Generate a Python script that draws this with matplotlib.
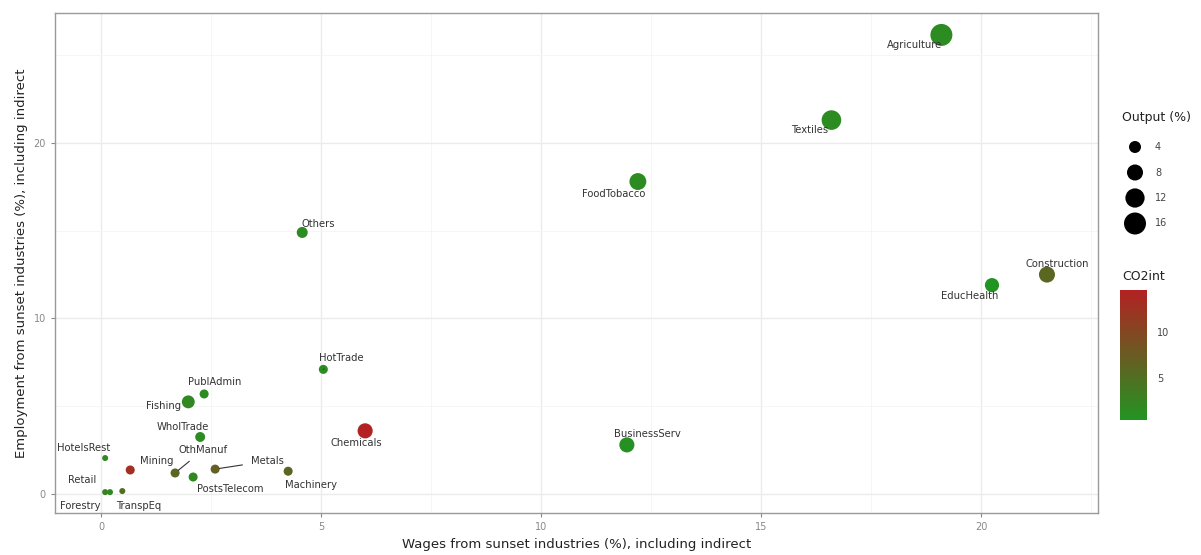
import numpy as np
import matplotlib
matplotlib.use("Agg")
import matplotlib.pyplot as plt
from matplotlib.colors import LinearSegmentedColormap, Normalize

# sector data
sectors = ["Agriculture", "Textiles", "FoodTobacco", "Others", "Construction",
           "EducHealth", "HotTrade", "PublAdmin", "Fishing", "WholTrade",
           "Chemicals", "BusinessServ", "HotelsRest", "Mining", "OthManuf",
           "PostsTelecom", "Metals", "Machinery", "Retail", "Forestry", "TranspEq"]
wages = [19.1, 16.6, 12.2, 4.57, 21.5, 20.25, 5.05, 2.34, 1.98, 2.25,
         6.0, 11.95, 0.09, 0.66, 1.68, 2.09, 2.59, 4.25, 0.09, 0.2, 0.48]
employment = [26.15, 21.3, 17.8, 14.9, 12.5, 11.9, 7.1, 5.7, 5.25, 3.25,
              3.6, 2.8, 2.05, 1.37, 1.2, 0.97, 1.42, 1.3, 0.11, 0.11, 0.17]
output = [16, 12.5, 9, 3.2, 8, 6, 1.8, 1.8, 4.8, 2.4,
          7, 7, 0.2, 1.8, 1.8, 1.8, 1.8, 1.8, 0.2, 0.2, 0.2]
co2int = [1.5, 1.5, 1.5, 1.5, 6.0, 0.5, 1.5, 1.5, 2.0, 1.5,
          14.5, 1.0, 2.0, 13.0, 6.0, 2.0, 7.0, 6.0, 3.0, 2.0, 5.0]

# label offsets in pixels (text centre relative to point), ggrepel-like
label_dx = [-27, -22, -24, 16, 10, -22, 18, 11, -25, -17,
            -9, 21, -22, 27, 28, 37, 52, 23, -23, -30, 16]
label_dy = [-10, -10, -12, 8, 11, -11, 11, 12, -4, 10,
            -12, 11, 10, 9, 23, -12, 8, -14, 12, -14, -15]
with_segment = ["HotTrade", "OthManuf", "Metals"]

legend_sizes = [4, 8, 12, 16]

def diam_px(v):
    return np.sqrt(30.7 + 28.3 * np.asarray(v, dtype=float))

def to_s(v):
    # scatter size in points^2 at dpi 100
    return (diam_px(v) * 0.72) ** 2

cmap = LinearSegmentedColormap.from_list("co2", ["#229422", "#B22222"])
norm = Normalize(vmin=min(co2int), vmax=max(co2int))

fig = plt.figure(figsize=(12.01, 5.55), dpi=100)
ax = fig.add_axes([55 / 1201, 1 - 513 / 555, (1098 - 55) / 1201, (513 - 13) / 555])

ax.set_xlim(-1.05, 22.66)
ax.set_ylim(-1.08, 27.4)
ax.set_xticks([0, 5, 10, 15, 20])
ax.set_yticks([0, 10, 20])
ax.set_xticks([2.5, 7.5, 12.5, 17.5, 22.5], minor=True)
ax.set_yticks([5, 15, 25], minor=True)
ax.grid(which="major", color="#ebebeb", linewidth=1.0)
ax.grid(which="minor", color="#f5f5f5", linewidth=0.6)
ax.set_axisbelow(True)
for sp in ax.spines.values():
    sp.set_color("#9a9a9a")
    sp.set_linewidth(1.0)
ax.tick_params(which="major", length=3, color="#888888", labelcolor="#888888",
               labelsize=7)
ax.tick_params(which="minor", length=0)

ax.scatter(wages, employment, s=to_s(output), c=co2int, cmap=cmap, norm=norm,
           edgecolors="none", zorder=3)

for i, name in enumerate(sectors):
    arrow = None
    if name in with_segment:
        arrow = dict(arrowstyle="-", color="#333333", lw=0.8, shrinkA=4, shrinkB=3)
    ax.annotate(name, (wages[i], employment[i]), xytext=(label_dx[i], label_dy[i]),
                textcoords="offset pixels", ha="center", va="center",
                fontsize=7.2, color="#333333", arrowprops=arrow, zorder=4)

ax.set_xlabel("Wages from sunset industries (%), including indirect",
              fontsize=9.5, color="#222222", labelpad=4)
ax.set_ylabel("Employment from sunset industries (%), including indirect",
              fontsize=9.5, color="#222222", labelpad=4)

# size legend, drawn on a pixel-space overlay (y grows downward)
lax = fig.add_axes([0, 0, 1, 1])
lax.set_xlim(0, 1201)
lax.set_ylim(555, 0)
lax.axis("off")
key_y = 147 + 25.5 * np.arange(len(legend_sizes))
lax.scatter(np.full(len(legend_sizes), 1135), key_y, s=to_s(legend_sizes),
            c="black", edgecolors="none")
for yk, v in zip(key_y, legend_sizes):
    lax.text(1155, yk, str(v), fontsize=7, color="#444444", va="center")
lax.text(1122, 118, "Output (%)", fontsize=9, color="#222222", va="center")
lax.text(1122, 277, "CO2int", fontsize=9, color="#222222", va="center")

# colour bar
cax = fig.add_axes([1120 / 1201, 1 - 420 / 555, 27 / 1201, 130 / 555])
sm = plt.cm.ScalarMappable(norm=norm, cmap=cmap)
cb = fig.colorbar(sm, cax=cax, ticks=[5, 10])
cb.outline.set_visible(False)
cb.ax.tick_params(labelsize=7, labelcolor="#444444", length=4, color="white")

fig.savefig("out.png", dpi=100)
